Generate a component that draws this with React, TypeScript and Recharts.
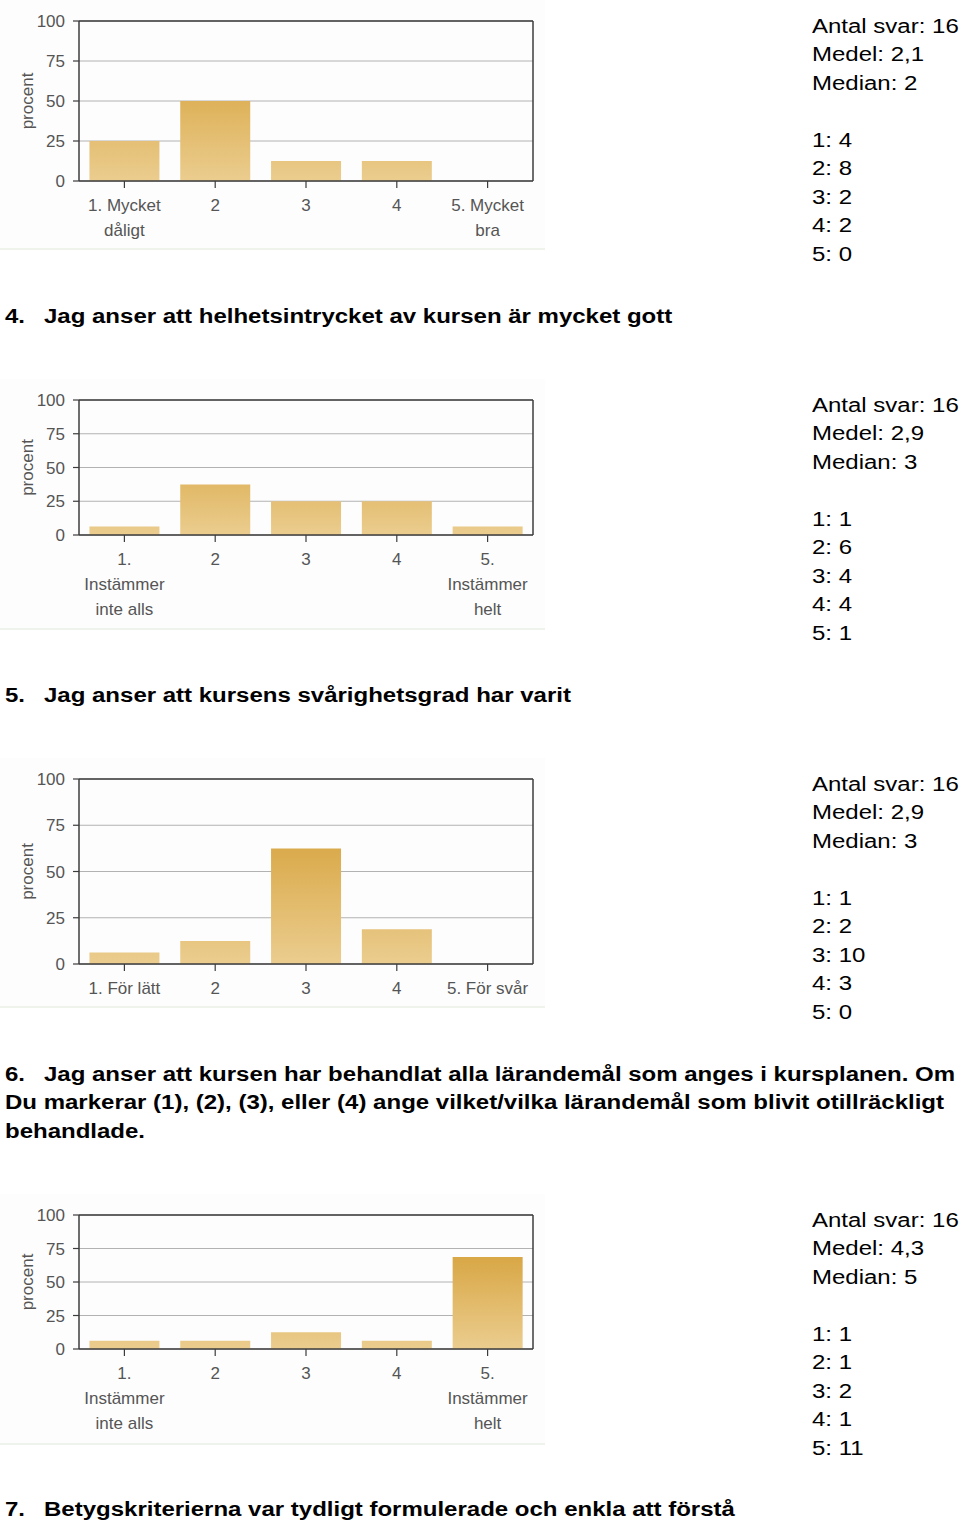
import React from "react";
import { BarChart, Bar, XAxis, YAxis, CartesianGrid } from "recharts";

// ---------- data ----------
const yTicks = [0, 25, 50, 75, 100];

const q3Categories = ["1. Mycket\ndåligt", "2", "3", "4", "5. Mycket\nbra"];
const q3Percent = [25, 50, 12.5, 12.5, 0];
const q3Stats = ["Antal svar: 16", "Medel: 2,1", "Median: 2", "", "1: 4", "2: 8", "3: 2", "4: 2", "5: 0"];

const q4Categories = ["1.\nInstämmer\ninte alls", "2", "3", "4", "5.\nInstämmer\nhelt"];
const q4Percent = [6.25, 37.5, 25, 25, 6.25];
const q4Stats = ["Antal svar: 16", "Medel: 2,9", "Median: 3", "", "1: 1", "2: 6", "3: 4", "4: 4", "5: 1"];

const q5Categories = ["1. För lätt", "2", "3", "4", "5. För svår"];
const q5Percent = [6.25, 12.5, 62.5, 18.75, 0];
const q5Stats = ["Antal svar: 16", "Medel: 2,9", "Median: 3", "", "1: 1", "2: 2", "3: 10", "4: 3", "5: 0"];

const q6Categories = ["1.\nInstämmer\ninte alls", "2", "3", "4", "5.\nInstämmer\nhelt"];
const q6Percent = [6.25, 6.25, 12.5, 6.25, 68.75];
const q6Stats = ["Antal svar: 16", "Medel: 4,3", "Median: 5", "", "1: 1", "2: 1", "3: 2", "4: 1", "5: 11"];

const title4 = ["4.", "Jag anser att helhetsintrycket av kursen är mycket gott"];
const title5 = ["5.", "Jag anser att kursens svårighetsgrad har varit"];
const title6 = [
  "6.",
  "Jag anser att kursen har behandlat alla lärandemål som anges i kursplanen. Om",
  "Du markerar (1), (2), (3), eller (4) ange vilket/vilka lärandemål som blivit otillräckligt",
  "behandlade.",
];
const title7 = ["7.", "Betygskriterierna var tydligt formulerade och enkla att förstå"];

// ---------- styling ----------
const FONT = "'Liberation Sans', Arial, Helvetica, sans-serif";
const AXIS_TEXT = "#555555";
const FRAME = "#3c3c3c";
const CHART_W = 545;

const MultiTick = (props: any) => {
  const { x, y, payload } = props;
  const lines = String(payload.value).split("\n");
  return (
    <g>
      {lines.map((l: string, i: number) => (
        <text
          key={i}
          x={x}
          y={y + 21 + i * 25}
          textAnchor="middle"
          fontSize={17}
          fill={AXIS_TEXT}
          fontFamily={FONT}
        >
          {l}
        </text>
      ))}
    </g>
  );
};

const ProcentLabel = (props: any) => {
  const vb = props.viewBox || { x: 0, y: 0, width: 0, height: 0 };
  const cx = 27;
  const cy = vb.y + vb.height / 2;
  return (
    <text
      x={cx}
      y={cy}
      transform={`rotate(-90 ${cx} ${cy})`}
      textAnchor="middle"
      dominantBaseline="central"
      fontSize={17}
      fill={AXIS_TEXT}
      fontFamily={FONT}
    >
      procent
    </text>
  );
};

type PanelProps = {
  id: string;
  top: number;
  plotHeight: number;
  xAxisHeight: number;
  categories: string[];
  values: number[];
};

const Panel = ({ id, top, plotHeight, xAxisHeight, categories, values }: PanelProps) => {
  const marginTop = 20; // + 1px top frame axis = plot top at 21
  const plotTop = marginTop + 1;
  const height = plotTop + plotHeight + xAxisHeight;
  const data = categories.map((c, i) => ({ cat: c, value: values[i] }));
  return (
    <div
      style={{
        position: "absolute",
        left: 0,
        top,
        width: CHART_W,
        height,
        background: "#fdfdfd",
        borderBottom: "2px solid #eef3ec",
        boxSizing: "border-box",
      }}
    >
      <BarChart
        width={CHART_W}
        height={height}
        data={data}
        margin={{ top: marginTop, right: 11, bottom: 0, left: 0 }}
        barCategoryGap="11.5%"
      >
        <defs>
          <linearGradient
            id={`grad-${id}`}
            gradientUnits="userSpaceOnUse"
            x1={0}
            y1={plotTop}
            x2={0}
            y2={plotTop + plotHeight}
          >
            <stop offset="0%" stopColor="#d09624" />
            <stop offset="100%" stopColor="#ebcd8f" />
          </linearGradient>
        </defs>
        <CartesianGrid vertical={false} stroke="#b2b2b2" strokeWidth={1} />
        <XAxis
          dataKey="cat"
          height={xAxisHeight}
          interval={0}
          tick={<MultiTick />}
          tickSize={7}
          axisLine={{ stroke: FRAME, strokeWidth: 1.5 }}
          tickLine={{ stroke: FRAME, strokeWidth: 1.2 }}
        />
        <XAxis
          xAxisId="top"
          orientation="top"
          dataKey="cat"
          height={1}
          tick={false}
          tickLine={false}
          axisLine={{ stroke: FRAME, strokeWidth: 1.5 }}
        />
        <YAxis
          width={79}
          domain={[0, 100]}
          ticks={yTicks}
          interval={0}
          tickSize={6}
          tickMargin={8}
          tick={{ fontSize: 17, fill: AXIS_TEXT, fontFamily: FONT }}
          axisLine={{ stroke: FRAME, strokeWidth: 1.5 }}
          tickLine={{ stroke: FRAME, strokeWidth: 1.2 }}
          label={{ content: <ProcentLabel /> } as any}
        />
        <YAxis
          yAxisId="right"
          orientation="right"
          width={1}
          domain={[0, 100]}
          tick={false}
          tickLine={false}
          axisLine={{ stroke: FRAME, strokeWidth: 1.5 }}
        />
        <Bar dataKey="value" fill={`url(#grad-${id})`} isAnimationActive={false} />
      </BarChart>
    </div>
  );
};

const LINE_H = 28.5;
const SCALE_X = 1.2;

const Stats = ({ lines, firstCenter }: { lines: string[]; firstCenter: number }) => (
  <div
    style={{
      position: "absolute",
      left: 812,
      top: firstCenter - LINE_H / 2,
      fontFamily: FONT,
      fontSize: 20,
      lineHeight: `${LINE_H}px`,
      color: "#000",
      whiteSpace: "nowrap",
      transform: `scaleX(${SCALE_X})`,
      transformOrigin: "left top",
    }}
  >
    {lines.map((l, i) => (
      <div key={i} style={{ height: LINE_H }}>
        {l}
      </div>
    ))}
  </div>
);

const Title = ({ parts, firstCenter }: { parts: string[]; firstCenter: number }) => {
  const base: React.CSSProperties = {
    position: "absolute",
    fontFamily: FONT,
    fontWeight: "bold",
    fontSize: 20,
    lineHeight: `${LINE_H}px`,
    height: LINE_H,
    color: "#000",
    whiteSpace: "nowrap",
    transform: `scaleX(${SCALE_X})`,
    transformOrigin: "left top",
  };
  const top0 = firstCenter - LINE_H / 2;
  return (
    <>
      <div style={{ ...base, left: 5, top: top0 }}>{parts[0]}</div>
      <div style={{ ...base, left: 44, top: top0 }}>{parts[1]}</div>
      {parts.slice(2).map((p, i) => (
        <div key={i} style={{ ...base, left: 5, top: top0 + (i + 1) * LINE_H }}>
          {p}
        </div>
      ))}
    </>
  );
};

export default function App() {
  return (
    <div
      style={{
        position: "absolute",
        left: 0,
        top: 0,
        width: 960,
        height: 1523,
        background: "#ffffff",
        overflow: "hidden",
      }}
    >
      <Panel id="q3" top={0} plotHeight={160} xAxisHeight={69} categories={q3Categories} values={q3Percent} />
      <Stats lines={q3Stats} firstCenter={26} />
      <Title parts={title4} firstCenter={316} />

      <Panel id="q4" top={379} plotHeight={135} xAxisHeight={95} categories={q4Categories} values={q4Percent} />
      <Stats lines={q4Stats} firstCenter={405} />
      <Title parts={title5} firstCenter={695} />

      <Panel id="q5" top={758} plotHeight={185} xAxisHeight={44} categories={q5Categories} values={q5Percent} />
      <Stats lines={q5Stats} firstCenter={784} />
      <Title parts={title6} firstCenter={1074} />

      <Panel id="q6" top={1194} plotHeight={134} xAxisHeight={96} categories={q6Categories} values={q6Percent} />
      <Stats lines={q6Stats} firstCenter={1220} />
      <Title parts={title7} firstCenter={1509} />
    </div>
  );
}
